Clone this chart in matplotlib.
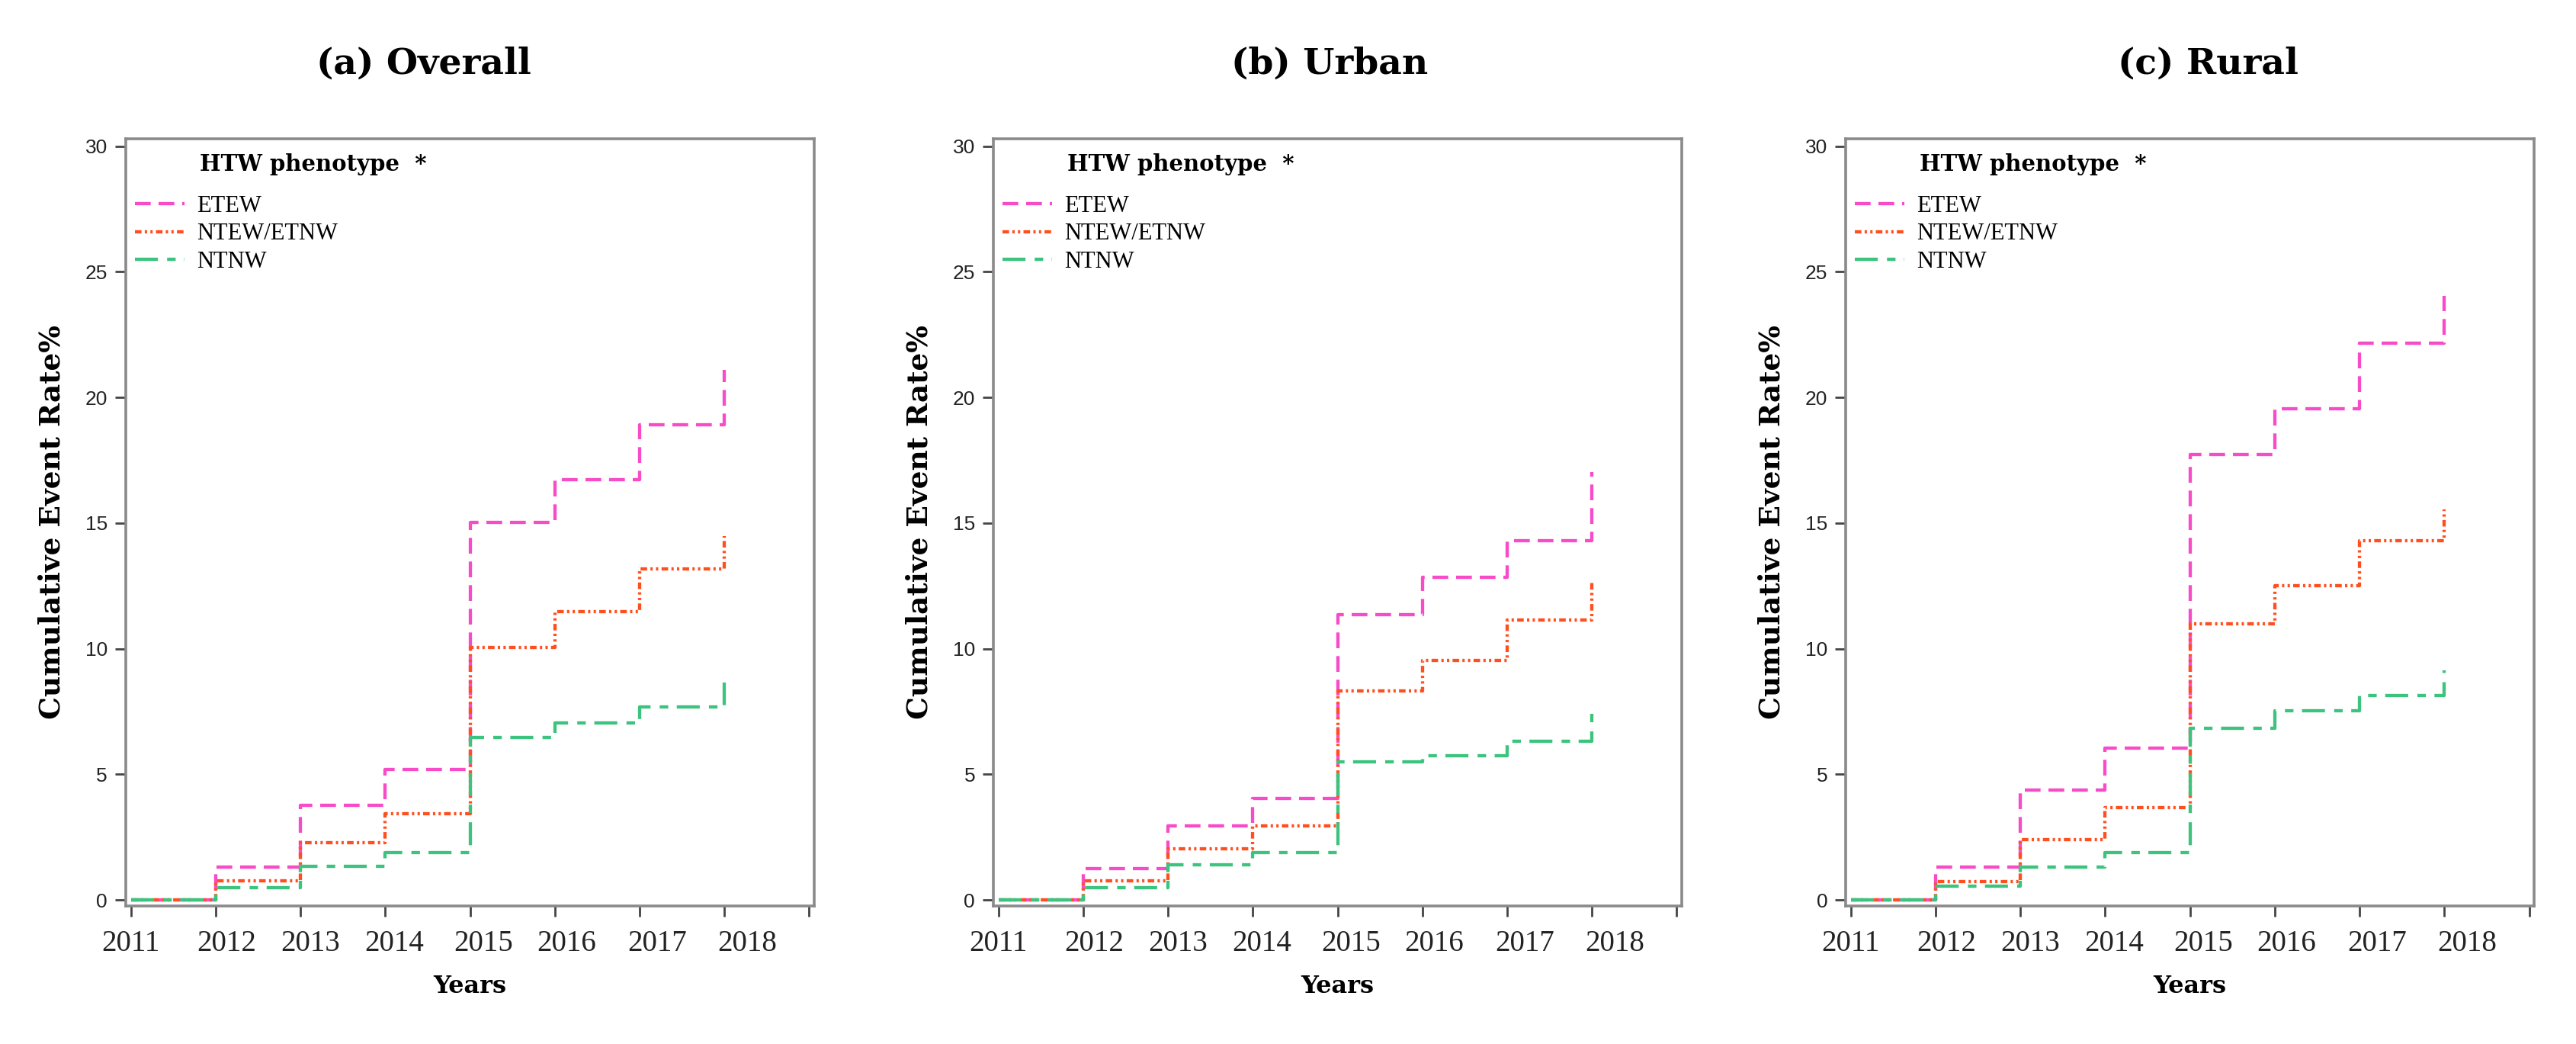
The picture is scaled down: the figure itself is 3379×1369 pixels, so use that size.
import matplotlib
matplotlib.use('Agg')
import matplotlib.pyplot as plt

years = [2011, 2012, 2013, 2014, 2015, 2016, 2017, 2018]
year_labels = ['2011', '2012', '2013', '2014', '2015', '2016', '2017', '2018']
panel_titles = ['(a) Overall', '(b) Urban', '(c) Rural']
groups = ['ETEW', 'NTEW/ETNW', 'NTNW']

# cumulative event rate (%) at each year, last value = end of follow-up (2018)
overall_etew = [0, 1.3, 3.76, 5.19, 15.03, 16.72, 18.9, 21.1]
overall_ntew = [0, 0.77, 2.28, 3.44, 10.05, 11.48, 13.17, 14.47]
overall_ntnw = [0, 0.5, 1.35, 1.88, 6.46, 7.04, 7.67, 8.65]

urban_etew = [0, 1.24, 2.96, 4.05, 11.35, 12.83, 14.31, 17.04]
urban_ntew = [0, 0.77, 2.04, 2.94, 8.31, 9.52, 11.14, 12.62]
urban_ntnw = [0, 0.5, 1.4, 1.9, 5.5, 5.74, 6.32, 7.41]

rural_etew = [0, 1.3, 4.37, 6.03, 17.72, 19.55, 22.17, 24.05]
rural_ntew = [0, 0.74, 2.41, 3.68, 10.98, 12.51, 14.31, 15.53]
rural_ntnw = [0, 0.56, 1.32, 1.88, 6.83, 7.54, 8.15, 9.13]

panels = [
    [overall_etew, overall_ntew, overall_ntnw],
    [urban_etew, urban_ntew, urban_ntnw],
    [rural_etew, rural_ntew, rural_ntnw],
]

colors = ['#f74bc8', '#ff4f1f', '#3cc47e']
styles = [(0, (4.8, 2.4)), (0, (2, 1, 0.7, 1, 0.7, 1)), (0, (7, 2.8, 2.6, 2.6))]
# year labels in the original sit a little right of their ticks
label_shift = [0, 0.13, 0.12, 0.11, 0.16, 0.14, 0.21, 0.27]

fig = plt.figure(figsize=(16.9, 6.845), dpi=200)
lefts = [0.0488, 0.3855, 0.7163]
title_x = [0.1645, 0.516, 0.857]
axis_gray = '#8a8a8a'

for k in range(3):
    ax = fig.add_axes([lefts[k], 0.1322, 0.2672, 0.735])
    handles = []
    for series, c, ls in zip(panels[k], colors, styles):
        xs = years[:-1] + [years[-1], years[-1]]
        ys = series[:-1] + [series[-2], series[-1]]
        h, = ax.step(xs, ys, where='post', color=c, linestyle=ls, lw=1.55)
        handles.append(h)

    ax.set_xlim(2010.94, 2019.06)
    ax.set_ylim(-0.24, 30.3)
    ax.set_yticks([0, 5, 10, 15, 20, 25, 30])
    ax.xaxis.remove_overlapping_locs = False
    ax.set_xticks(years + [2019])
    ax.set_xticklabels([])
    ax.set_xticks([y + s for y, s in zip(years, label_shift)], minor=True)
    ax.set_xticklabels(year_labels, minor=True, family='Liberation Serif', fontsize=14,
                       color='#222222')
    ax.tick_params(axis='x', which='minor', length=0, pad=11)
    for lab in ax.get_yticklabels():
        lab.set_family('Liberation Sans')
        lab.set_fontsize(9.5)
        lab.set_color('#222222')
    ax.tick_params(axis='both', which='major', direction='out', length=5, width=1.0,
                   color='#444444', pad=3.6)
    for s in ax.spines.values():
        s.set_color(axis_gray)
        s.set_linewidth(1.3)

    ax.set_ylabel('Cumulative Event Rate%', family='DejaVu Serif', fontweight='bold',
                  fontsize=13.5, labelpad=9)
    ax.set_xlabel('Years', family='DejaVu Serif', fontweight='bold', fontsize=11.5, labelpad=8)

    ax.text(0.1074, 0.967, 'HTW phenotype  *', transform=ax.transAxes, va='center',
            ha='left', family='DejaVu Serif', fontweight='bold', fontsize=10.5)
    ax.legend(handles, groups, loc='center left', bbox_to_anchor=(0.0133, 0.8757),
              frameon=False, prop={'family': 'Liberation Serif', 'size': 11},
              handlelength=2.13, handletextpad=0.52, labelspacing=0.25,
              borderaxespad=0, borderpad=0)

    fig.text(title_x[k], 1 - 97 / 1369, panel_titles[k], ha='center', va='baseline',
             family='DejaVu Serif', fontweight='bold', fontsize=17)

fig.savefig('out.png', dpi=200)
